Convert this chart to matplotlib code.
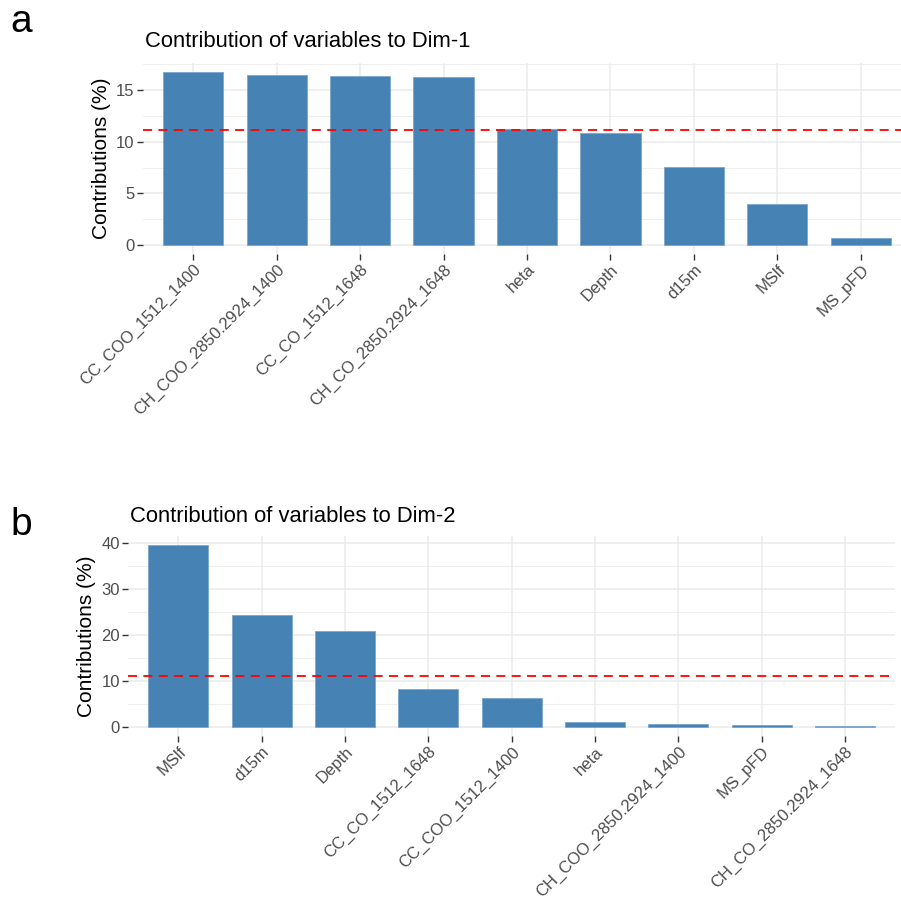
import matplotlib.pyplot as plt
import numpy as np

plt.rcParams['font.family'] = ['Liberation Sans', 'DejaVu Sans']

# contributions
dim1_vars = ['CC_COO_1512_1400', 'CH_COO_2850.2924_1400', 'CC_CO_1512_1648',
             'CH_CO_2850.2924_1648', 'heta', 'Depth', 'd15m', 'MSlf', 'MS_pFD']
dim1_contrib = [16.78, 16.50, 16.36, 16.30, 11.26, 10.87, 7.52, 3.97, 0.65]

dim2_vars = ['MSlf', 'd15m', 'Depth', 'CC_CO_1512_1648', 'CC_COO_1512_1400',
             'heta', 'CH_COO_2850.2924_1400', 'MS_pFD', 'CH_CO_2850.2924_1648']
dim2_contrib = [39.5, 24.4, 20.8, 8.2, 6.3, 1.0, 0.6, 0.35, 0.2]

dim1_ticks = [0, 5, 10, 15]
dim2_ticks = [0, 10, 20, 30, 40]
ref_line = 100 / 9  # expected average contribution

W, H = 901, 913
fig = plt.figure(figsize=(W / 100, H / 100), dpi=100)


def draw_panel(ax, names, vals, ticks):
    x = np.arange(len(names))
    step = ticks[1] - ticks[0]
    top = max(vals)
    ax.set_xlim(-0.6, len(names) - 0.4)
    ax.set_ylim(-0.05 * top, 1.05 * top)
    minor = np.arange(step / 2, 1.05 * top, step)
    for m in minor:
        ax.axhline(m, color='#EBEBEB', lw=0.6, zorder=0)
    for t in ticks:
        ax.axhline(t, color='#EBEBEB', lw=1.1, zorder=0)
    for xi in x:
        ax.axvline(xi, color='#EBEBEB', lw=1.1, zorder=0)
    ax.bar(x, vals, width=0.72, color='#4682B4', edgecolor='#7BA6CC',
           linewidth=0.6, zorder=2)
    ax.axhline(ref_line, color='#FF0000', lw=1.3, ls=(0, (5, 3.5)), zorder=3)
    ax.set_xticks(x)
    ax.set_xticklabels(names, rotation=45, ha='right', va='top',
                       rotation_mode='anchor')
    ax.set_yticks(ticks)
    ax.tick_params(axis='both', length=4, width=1, color='#333333',
                   labelcolor='#4D4D4D', labelsize=12, pad=2)
    ax.set_ylabel('Contributions (%)', fontsize=15, color='black', labelpad=4)
    for s in ax.spines.values():
        s.set_visible(False)


ax1 = fig.add_axes([143 / W, 1 - 253.7 / H, (911 - 143) / W, (253.7 - 63) / H])
draw_panel(ax1, dim1_vars, dim1_contrib, dim1_ticks)

ax2 = fig.add_axes([128.3 / W, 1 - 735.8 / H, (895 - 128.3) / W, (735.8 - 536.3) / H])
draw_panel(ax2, dim2_vars, dim2_contrib, dim2_ticks)

fig.text(145 / W, 1 - 47 / H, 'Contribution of variables to Dim-1',
         fontsize=15.8, va='baseline', ha='left')
fig.text(130 / W, 1 - 522 / H, 'Contribution of variables to Dim-2',
         fontsize=15.8, va='baseline', ha='left')
fig.text(10 / W, 1 - 32 / H, 'a', fontsize=28, va='baseline', ha='left')
fig.text(10 / W, 1 - 535 / H, 'b', fontsize=28, va='baseline', ha='left')

fig.savefig('out.png', dpi=100)
